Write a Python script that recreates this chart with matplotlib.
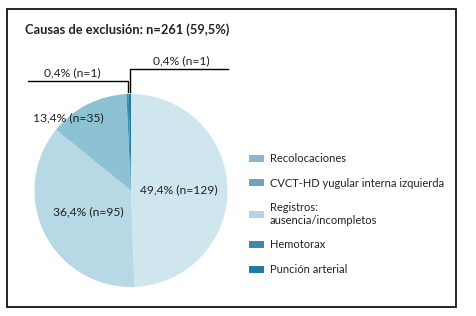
import numpy as np
import matplotlib.pyplot as plt
from matplotlib.patches import Patch, Rectangle

# data, clockwise from 12 o'clock
causes = ['Registros:\nausencia/incompletos', 'Recolocaciones',
          'CVCT-HD yugular interna izquierda', 'Hemotorax', 'Punción arterial']
counts = [129, 95, 35, 1, 1]
pct_labels = ['49,4% (n=129)', '36,4% (n=95)', '13,4% (n=35)',
              '0,4% (n=1)', '0,4% (n=1)']
title = 'Causas de exclusión: n=261 (59,5%)'
legend_order = ['Recolocaciones', 'CVCT-HD yugular interna izquierda',
                'Registros:\nausencia/incompletos', 'Hemotorax', 'Punción arterial']

pie_colors = ['#d0e6ee', '#b7d9e5', '#8dc2d4', '#3c8db0', '#1f7a9b']
legend_colors = {'Recolocaciones': '#8fb4cb',
                 'CVCT-HD yugular interna izquierda': '#6fa2c0',
                 'Registros:\nausencia/incompletos': '#b9d2e2',
                 'Hemotorax': '#3f88ad',
                 'Punción arterial': '#207b9c'}

plt.rcParams['font.family'] = ['Lato', 'DejaVu Sans']
txt = '#222222'

W, H = 476, 316
fig = plt.figure(figsize=(W / 100, H / 100), dpi=100)
ax = fig.add_axes([0, 0, 1, 1])

cx, cy, r = 131, H - 190.5, 96.5
wedges, _ = ax.pie(counts, colors=pie_colors, startangle=90, counterclock=False,
                   center=(cx, cy), radius=r,
                   wedgeprops=dict(linewidth=0))
ax.set_xlim(0, W)
ax.set_ylim(0, H)
ax.set_aspect('auto')
ax.axis('off')

# labels inside / on the big slices (radial fraction, angle shift)
place = [(0.5, 0), (0.49, 0), (1.0, 14)]
for w, lab, (d, shift) in zip(wedges[:3], pct_labels[:3], place):
    a = np.deg2rad((w.theta1 + w.theta2) / 2 + shift)
    ax.text(cx + d * r * np.cos(a), cy + d * r * np.sin(a), lab,
            ha='center', va='center', fontsize=8.7, color=txt)

# leader lines for the two tiny slices
for w, lab, hy, xend, dx in zip(wedges[3:], pct_labels[3:],
                                [81, 69], [28, 228], [-5, 2]):
    a = np.deg2rad((w.theta1 + w.theta2) / 2)
    x0 = cx + r * np.cos(a)
    y0 = cy + r * np.sin(a)
    ax.plot([x0, x0, xend], [y0 + 2, H - hy, H - hy], color='black', lw=1.0)
    ax.text((x0 + xend) / 2 + dx, H - hy + 3, lab,
            ha='center', va='bottom', fontsize=8.7, color=txt)

ax.text(25, H - 30, title, ha='left', va='center', fontsize=9.3,
        fontweight='bold', color=txt)

handles = [Patch(facecolor=legend_colors[c], edgecolor='none') for c in legend_order]
fig.legend(handles, legend_order, loc='upper left',
           bbox_to_anchor=(249 / W, 1 - 153 / H), frameon=False,
           fontsize=8, labelspacing=1.22, handlelength=1.35, handleheight=0.6,
           handletextpad=0.55, borderpad=0, borderaxespad=0,
           labelcolor=txt)

fig.add_artist(Rectangle((7 / W, 1 - 306.5 / H), 449 / W, 297.5 / H,
                         transform=fig.transFigure, fill=False,
                         edgecolor='black', lw=1.2))

fig.savefig('out.png', dpi=100)
